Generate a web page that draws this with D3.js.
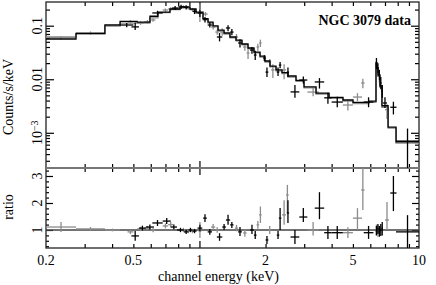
<!DOCTYPE html>
<html><head><meta charset="utf-8">
<script src="https://cdn.jsdelivr.net/npm/d3@7"></script>
<style>
html,body{margin:0;padding:0;background:#fff;}
text{font-family:"Liberation Serif","Times New Roman",serif;font-size:14px;fill:#000;}
</style></head>
<body>
<svg id="c" width="436" height="285"></svg>
<script>
// ---------- DATA ----------
// each point: [eLo (keV), eHi (keV), value, lowerBound, upperBound]
const blackData = [
  [0.435,0.50,0.103,0.094,0.112],[0.49,0.53,0.095,0.083,0.115],[0.61,0.68,0.173,0.158,0.19],
  [0.75,0.80,0.214,0.196,0.233],[0.80,0.85,0.224,0.205,0.245],[0.85,0.89,0.22,0.2,0.24],
  [0.93,0.97,0.185,0.165,0.205],[0.98,1.03,0.173,0.145,0.2],[1.04,1.08,0.13,0.115,0.145],
  [1.09,1.14,0.103,0.093,0.115],[1.20,1.27,0.0615,0.051,0.073],[1.32,1.38,0.0906,0.079,0.102],
  [1.38,1.43,0.076,0.066,0.087],[1.50,1.56,0.0475,0.039,0.056],[1.70,1.77,0.0351,0.03,0.04],
  [1.77,1.82,0.0283,0.023,0.034],[1.95,2.00,0.0249,0.022,0.028],[2.00,2.06,0.0136,0.011,0.0165],
  [2.25,2.31,0.0136,0.0115,0.0165],[2.30,2.36,0.0184,0.016,0.021],[2.50,2.56,0.0136,0.011,0.0166],
  [2.6,2.85,0.0058,0.0045,0.0078],[2.85,3.1,0.00966,0.0083,0.0113],[3.35,3.7,0.0089,0.0067,0.0105],
  [3.7,4.0,0.0045,0.0035,0.0056],[4.0,4.5,0.00375,0.003,0.0047],[5.6,6.2,0.00375,0.003,0.0046],
  [6.35,6.45,0.0201,0.016,0.025],[6.45,6.55,0.0165,0.013,0.02],[6.55,6.65,0.012,0.0095,0.015],
  [6.65,6.75,0.0085,0.0065,0.011],[6.75,6.85,0.006,0.0045,0.0078],[6.85,7.15,0.0036,0.0029,0.0046],
  [7.4,7.9,0.003,0.0022,0.0038],[7.86,10,0.0007,0.00022,0.0012]
];
const grayData = [
  [0.2,0.274,0.06,0.056,0.064],[0.274,0.371,0.073,0.068,0.078],[0.47,0.50,0.117,0.108,0.127],
  [0.52,0.56,0.112,0.104,0.12],[0.56,0.6,0.117,0.108,0.127],[0.6,0.63,0.128,0.118,0.138],
  [0.68,0.72,0.1965,0.18,0.21],[0.72,0.76,0.205,0.19,0.22],[0.83,0.86,0.224,0.21,0.24],
  [0.87,0.91,0.214,0.2,0.23],[0.91,0.95,0.2,0.185,0.215],[0.99,1.02,0.173,0.117,0.2545],
  [1.04,1.09,0.165,0.15,0.18],[1.13,1.18,0.0946,0.085,0.105],[1.18,1.23,0.0762,0.068,0.085],
  [1.24,1.3,0.0762,0.065,0.09],[1.45,1.5,0.0615,0.054,0.07],[1.58,1.64,0.04,0.034,0.046],
  [1.64,1.69,0.0309,0.024,0.036],[1.82,1.87,0.04,0.034,0.046],[1.87,1.92,0.0475,0.04,0.055],
  [2.06,2.12,0.021,0.018,0.024],[2.12,2.2,0.0149,0.0105,0.019],[2.38,2.48,0.0149,0.01,0.019],
  [3.1,3.5,0.00576,0.0048,0.0069],[4.5,5.0,0.0033,0.0026,0.0041],[5.0,5.5,0.00465,0.0039,0.0055],
  [5.45,5.65,0.0085,0.0068,0.0102],[6.35,6.45,0.018,0.015,0.022],[6.45,6.55,0.014,0.011,0.017],
  [6.55,6.7,0.009,0.007,0.0115],[7.0,7.3,0.0027,0.0018,0.0034]
];
const modelEdges = [0.2,0.274,0.371,0.435,0.52,0.595,0.647,0.734,0.8155,0.9056,0.9645,1.038,1.094,1.153,1.215,1.294,1.377,1.467,1.562,1.664,1.772,1.887,1.988,2.096,2.232,2.377,2.531,2.753,2.994,3.396,3.892,4.506,5.005,5.92,6.37,6.44,6.51,6.64,6.78,7.23,7.86,10];
const modelBlack = [0.0564,0.0715,0.103,0.12,0.117,0.15,0.18,0.205,0.224,0.205,0.18,0.136,0.117,0.099,0.083,0.073,0.0615,0.054,0.0455,0.0383,0.0322,0.0271,0.0219,0.0176,0.0149,0.0133,0.0115,0.0095,0.0072,0.0055,0.0046,0.0041,0.0037,0.0039,0.0201,0.016,0.012,0.0075,0.0032,0.00128,0.00068];
const modelGray = [0.062,0.071,0.098,0.112,0.112,0.14,0.175,0.2,0.215,0.2,0.17,0.13,0.112,0.095,0.079,0.07,0.059,0.052,0.044,0.037,0.031,0.026,0.021,0.017,0.0143,0.0128,0.011,0.0091,0.0069,0.0053,0.0044,0.0039,0.0035,0.0037,0.019,0.015,0.0113,0.0071,0.0030,0.00122,0.00064];
const blackRatio = [
  [0.49,0.53,0.78,0.6,0.96],[0.53,0.57,1.07,0.98,1.16],[0.57,0.62,1.11,1.02,1.2],[0.61,0.68,1.26,1.15,1.37],
  [0.68,0.74,1.33,1.22,1.44],[0.74,0.79,1.11,1.02,1.2],[0.79,0.85,1.0,0.92,1.08],[0.85,0.89,0.93,0.85,1.01],
  [0.89,0.93,1.0,0.92,1.08],[0.93,0.97,0.96,0.88,1.04],[0.98,1.03,1.07,0.95,1.19],[1.04,1.08,1.44,1.3,1.58],
  [1.09,1.14,0.93,0.82,1.04],[1.2,1.27,0.74,0.6,0.88],[1.27,1.32,1.11,1.0,1.22],[1.32,1.38,1.37,1.19,1.56],
  [1.38,1.43,1.19,1.07,1.3],[1.5,1.56,0.93,0.78,1.11],[1.70,1.77,1.0,0.85,1.19],[1.77,1.82,0.81,0.67,0.96],
  [2.0,2.06,0.63,0.48,0.78],[2.25,2.31,0.81,0.67,0.96],[2.3,2.36,1.44,1.0,1.81],[2.5,2.56,1.63,1.26,2.1],
  [2.6,2.85,0.74,0.48,1.0],[2.85,3.1,1.48,1.3,1.81],[3.35,3.7,1.81,1.4,2.4],[3.7,4.0,0.9,0.67,1.15],
  [4.0,4.5,0.9,0.67,1.15],[5.6,6.2,0.9,0.67,1.15],[6.35,6.45,0.96,0.8,1.15],[6.45,6.55,1.04,0.85,1.22],
  [6.55,6.65,0.93,0.75,1.15],[6.65,6.75,1.0,0.78,1.22],[6.75,6.85,1.07,0.8,1.3],[7.4,7.9,2.37,1.7,3.0],
  [7.86,10,0.93,0.3,1.55]
];
const grayRatio = [
  [0.2,0.274,1.11,0.93,1.3],[0.274,0.371,1.04,0.97,1.11],[0.371,0.435,1.0,0.95,1.05],[0.47,0.5,0.93,0.85,1.0],
  [0.52,0.56,1.04,0.96,1.12],[0.56,0.6,1.07,0.99,1.15],[0.6,0.63,1.0,0.92,1.08],[0.68,0.72,1.15,1.06,1.24],
  [0.72,0.76,1.2,1.1,1.3],[0.83,0.86,1.0,0.92,1.08],[0.87,0.91,0.96,0.88,1.04],[0.91,0.95,0.96,0.88,1.04],
  [0.99,1.02,0.96,0.7,1.3],[1.13,1.18,1.11,1.0,1.22],[1.18,1.23,1.0,0.9,1.1],[1.45,1.5,1.07,0.95,1.19],
  [1.58,1.64,0.89,0.75,1.03],[1.82,1.87,1.19,1.05,1.33],[1.87,1.92,1.56,1.26,1.87],[2.06,2.12,1.0,0.85,1.15],
  [2.38,2.48,1.56,1.19,2.1],[2.48,2.55,2.3,1.63,2.67],[3.1,3.5,1.0,0.8,1.3],[4.5,5.0,0.9,0.7,1.1],
  [5.0,5.5,1.44,1.0,1.81],[5.45,5.65,2.48,1.74,3.3],[6.35,6.45,1.0,0.8,1.2],[6.45,6.55,0.96,0.75,1.18],
  [7.0,7.3,1.37,1.0,2.04]
];
const xLabels = [0.2,0.5,1,2,5,10];
const xMinor = [0.3,0.4,0.5,0.6,0.7,0.8,0.9,2,3,4,5,6,7,8,9];
const xMajor = [1];
const yTopMajor = [0.1,0.01,0.001];
const yTopLabels = ["0.1","0.01","10"];
const ratioLabels = [1,2,3];
const title = "NGC 3079 data";

// ---------- LAYOUT ----------
const L=46,R=419,T=2,M=168,B=248;
const BLACK="#000", GRAY="#8c8c8c";
const svg=d3.select("#c");
const x=d3.scaleLog().domain([0.2,10]).range([L,R]);
const yT=d3.scaleLog().domain([2.2e-4,0.2771]).range([M,T]);
const yR=d3.scaleLinear().domain([0.333,3.296]).range([B,M]);

svg.append("defs").html(
 `<clipPath id="cpT"><rect x="${L}" y="${T}" width="${R-L}" height="${M-T+3}"/></clipPath>
  <clipPath id="cpR"><rect x="${L}" y="${M}" width="${R-L}" height="${B-M}"/></clipPath>`);

// minor y ticks for log panel
const yTopMinor=[];
[1e-4,1e-3,1e-2,1e-1].forEach(d=>{for(let k=2;k<=9;k++){const v=d*k;if(v>=2.2e-4&&v<=0.277)yTopMinor.push(v);}});
const yRMinor=d3.range(0.4,3.3,0.2).filter(v=>Math.abs(v-Math.round(v))>0.05);

function ax(gen,tr,size){
  const g=svg.append("g").attr("transform",tr).call(gen.tickSize(size).tickFormat(""));
  g.select(".domain").remove();
  g.selectAll("line").attr("stroke","#000").attr("stroke-width",1.2);
  return g;
}
// X ticks
[[T,"B"],[M,"T"],[M,"B"],[B,"T"]].forEach(([yy,dir])=>{
  const gen=dir==="B"?d3.axisBottom:d3.axisTop;
  ax(gen(x).tickValues(xMinor),`translate(0,${yy})`,4);
  ax(gen(x).tickValues(xMajor),`translate(0,${yy})`,7);
});
// Y ticks top panel
ax(d3.axisRight(yT).tickValues(yTopMinor),`translate(${L},0)`,4);
ax(d3.axisRight(yT).tickValues(yTopMajor),`translate(${L},0)`,8);
ax(d3.axisLeft(yT).tickValues(yTopMinor),`translate(${R},0)`,4);
ax(d3.axisLeft(yT).tickValues(yTopMajor),`translate(${R},0)`,8);
// Y ticks ratio panel
ax(d3.axisRight(yR).tickValues(yRMinor),`translate(${L},0)`,3);
ax(d3.axisRight(yR).tickValues(ratioLabels),`translate(${L},0)`,7);
ax(d3.axisLeft(yR).tickValues(yRMinor),`translate(${R},0)`,3);
ax(d3.axisLeft(yR).tickValues(ratioLabels),`translate(${R},0)`,7);

// frames
svg.append("rect").attr("x",L).attr("y",T).attr("width",R-L).attr("height",B-T)
  .attr("fill","none").attr("stroke","#222").attr("stroke-width",1.3);
svg.append("line").attr("x1",L).attr("x2",R).attr("y1",M).attr("y2",M)
  .attr("stroke","#777").attr("stroke-width",2);

// ---------- MARKS ----------
const gT=svg.append("g").attr("clip-path","url(#cpT)");
const gR=svg.append("g").attr("clip-path","url(#cpR)");
const stepLine=d3.line().x(d=>x(d[0])).y(d=>d[1]);
function model(g,vals,col){
  const pts=[];
  vals.forEach((v,i)=>{pts.push([modelEdges[i],yT(v)]);pts.push([modelEdges[i+1],yT(v)]);});
  g.append("path").attr("d",stepLine(pts)).attr("fill","none").attr("stroke",col).attr("stroke-width",1.3);
}
function crosses(g,data,ys,col){
  const s=g.append("g").attr("stroke",col).attr("stroke-width",1.3);
  data.forEach(d=>{
    const xc=x(Math.sqrt(d[0]*d[1]));
    s.append("line").attr("x1",x(d[0])).attr("x2",x(d[1])).attr("y1",ys(d[2])).attr("y2",ys(d[2]));
    s.append("line").attr("x1",xc).attr("x2",xc).attr("y1",ys(d[3])).attr("y2",ys(d[4]));
  });
}
model(gT,modelGray,GRAY);
crosses(gT,grayData,yT,GRAY);
model(gT,modelBlack,BLACK);
crosses(gT,blackData,yT,BLACK);

gR.append("line").attr("x1",L).attr("x2",R).attr("y1",yR(1)).attr("y2",yR(1))
  .attr("stroke","#444").attr("stroke-width",1.3);
crosses(gR,grayRatio,yR,GRAY);
crosses(gR,blackRatio,yR,BLACK);

// ---------- TEXT ----------
svg.selectAll(".xl").data(xLabels).enter().append("text")
  .attr("x",d=>x(d)).attr("y",265).attr("text-anchor","middle").text(d=>d);
svg.append("text").attr("x",158).attr("y",281).text("channel energy (keV)");
yTopMajor.forEach((v,i)=>{
  const t=svg.append("text").attr("transform",`translate(42,${yT(v)}) rotate(-90)`).attr("text-anchor","middle");
  t.append("tspan").text(yTopLabels[i]);
  if(i===2){t.append("tspan").attr("dy","-0.45em").style("font-size","10px").text("\u22123");}
});
ratioLabels.forEach(v=>{
  svg.append("text").attr("transform",`translate(42,${yR(v)}) rotate(-90)`).attr("text-anchor","middle").text(v);
});
svg.append("text").attr("transform",`translate(13,97) rotate(-90)`).attr("text-anchor","middle").text("Counts/s/keV");
svg.append("text").attr("transform",`translate(13,207) rotate(-90)`).attr("text-anchor","middle").text("ratio");
svg.append("text").attr("x",411).attr("y",25).attr("text-anchor","end").style("font-weight","bold").text(title);
</script>
</body></html>
